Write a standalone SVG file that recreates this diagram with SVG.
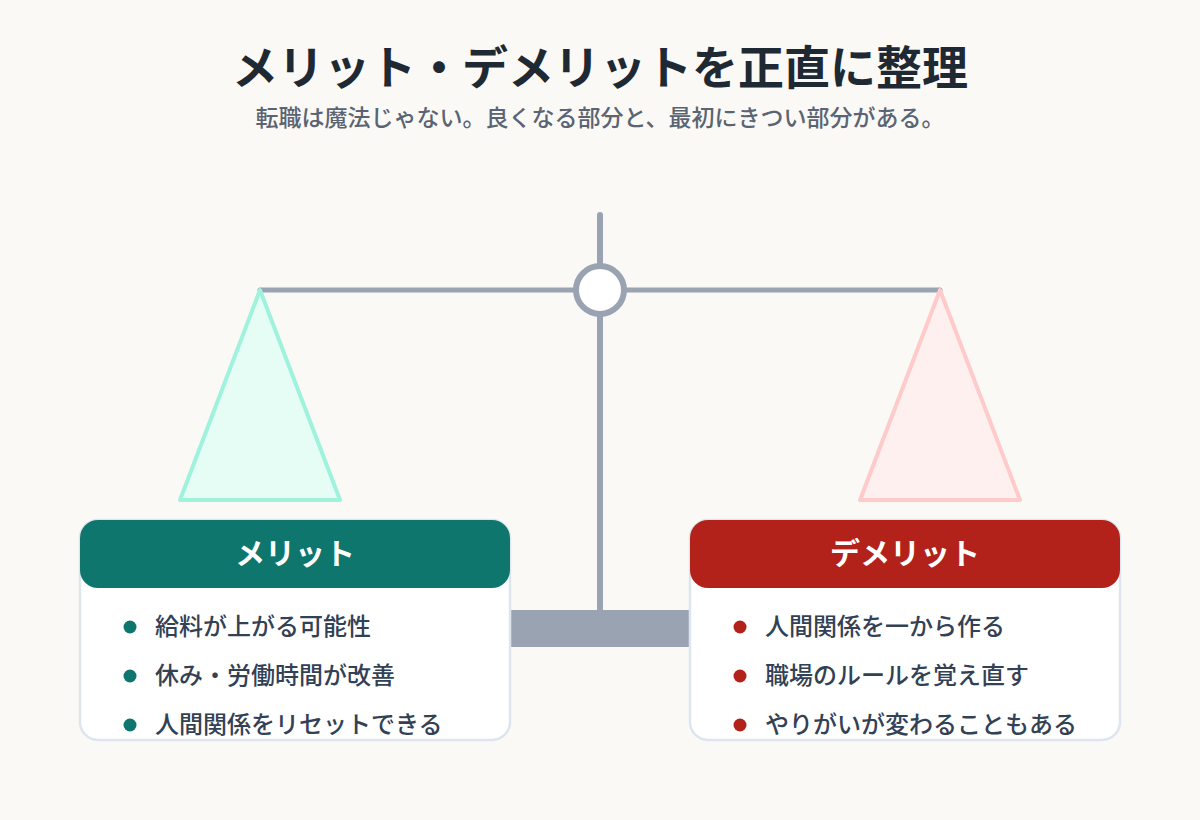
<svg xmlns="http://www.w3.org/2000/svg" width="1200" height="820" viewBox="0 0 1200 820">
<style>
.jp{font-family:"Noto Sans CJK JP","Noto Sans",sans-serif}
.title{font-size:46px;font-weight:700;fill:#1f2933}
.sub{font-size:23px;font-weight:500;fill:#5b6472}
.head{font-size:30px;font-weight:700;fill:#ffffff}
.item{font-size:24px;font-weight:500;fill:#334155}
.card{fill:#ffffff;stroke:#dde5ee;stroke-width:2.5}
.metal{stroke:#9aa3b2;fill:none;stroke-linecap:round}
</style>
<rect width="1200" height="820" fill="#faf9f6"/>
<text class="jp title" x="600" y="84" text-anchor="middle">メリット・デメリットを正直に整理</text>
<text class="jp sub" x="600" y="126" text-anchor="middle">転職は魔法じゃない。良くなる部分と、最初にきつい部分がある。</text>
<g id="connectors">
<line class="metal" x1="600" y1="215" x2="600" y2="612" stroke-width="6"/>
<line class="metal" x1="260" y1="290" x2="940" y2="290" stroke-width="5"/>
</g>
<g id="base"><rect x="510" y="610" width="180" height="37" fill="#9aa3b2"/></g>
<g id="pivot"><circle cx="600" cy="290" r="24" fill="#ffffff" stroke="#9aa3b2" stroke-width="6"/></g>
<g id="pan-left"><polygon points="260,290 340,500 180,500" fill="#e6fdf6" stroke="#9ff2dc" stroke-width="4" stroke-linejoin="round"/></g>
<g id="pan-right"><polygon points="940,290 1020,500 860,500" fill="#fff0f0" stroke="#fecaca" stroke-width="4" stroke-linejoin="round"/></g>
<g id="merit">
<rect class="card" x="80" y="520" width="430" height="220" rx="18"/>
<rect x="80" y="520" width="430" height="68" rx="18" fill="#0f766e"/>
<text class="jp head" x="295" y="564" text-anchor="middle">メリット</text>
<circle cx="130" cy="627" r="6.5" fill="#0f766e"/>
<text class="jp item" x="155" y="635">給料が上がる可能性</text>
<circle cx="130" cy="676" r="6.5" fill="#0f766e"/>
<text class="jp item" x="155" y="684">休み・労働時間が改善</text>
<circle cx="130" cy="725" r="6.5" fill="#0f766e"/>
<text class="jp item" x="155" y="733">人間関係をリセットできる</text>
</g>
<g id="demerit">
<rect class="card" x="690" y="520" width="430" height="220" rx="18"/>
<rect x="690" y="520" width="430" height="68" rx="18" fill="#b2221a"/>
<text class="jp head" x="905" y="564" text-anchor="middle">デメリット</text>
<circle cx="740" cy="627" r="6.5" fill="#b2221a"/>
<text class="jp item" x="765" y="635">人間関係を一から作る</text>
<circle cx="740" cy="676" r="6.5" fill="#b2221a"/>
<text class="jp item" x="765" y="684">職場のルールを覚え直す</text>
<circle cx="740" cy="725" r="6.5" fill="#b2221a"/>
<text class="jp item" x="765" y="733">やりがいが変わることもある</text>
</g>
</svg>
